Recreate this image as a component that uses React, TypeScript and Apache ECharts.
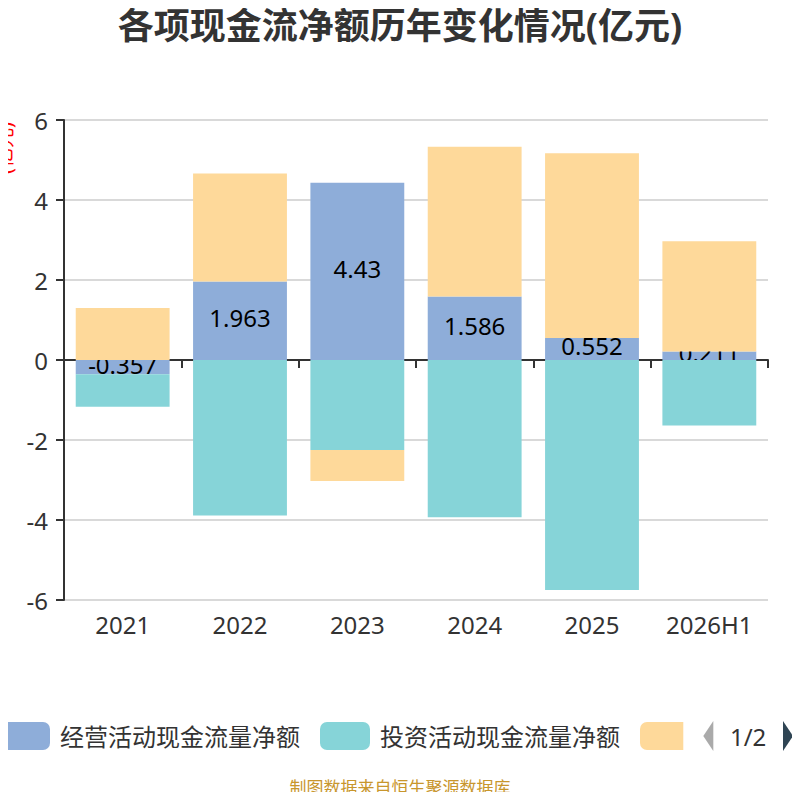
import React, { useEffect, useRef } from "react";
import * as echarts from "echarts";

const categories = ["2021", "2022", "2023", "2024", "2025", "2026H1"];
const operatingCF = [-0.357, 1.963, 4.43, 1.586, 0.552, 0.211];
const investingCF = [-0.81, -3.89, -2.25, -3.93, -5.75, -1.64];
const financingCF = [1.3, 2.7, -0.775, 3.745, 4.615, 2.756];
const seriesNames = ["经营活动现金流量净额", "投资活动现金流量净额", "筹资活动现金流量净额"];
const yTicks = { min: -6, max: 6, interval: 2 };

const FONT = "'Noto Sans', 'Noto Sans CJK SC', sans-serif";

export default function App() {
  const ref = useRef<HTMLDivElement>(null);
  useEffect(() => {
    if (!ref.current) return;
    const chart = echarts.init(ref.current, null, { renderer: "svg" });
    chart.setOption({
      animation: false,
      textStyle: { fontFamily: FONT },
      title: {
        text: "各项现金流净额历年变化情况(亿元)",
        left: "center",
        top: 2,
        textStyle: { fontSize: 36, fontWeight: "bold", color: "#333", fontFamily: FONT },
      },
      grid: { left: 64, right: 32, top: 120, bottom: 200, containLabel: false },
      legend: {
        type: "scroll",
        left: 0,
        width: 793,
        top: 721,
        padding: 0,
        itemWidth: 50,
        itemHeight: 28,
        itemGap: 20,
        icon: "roundRect",
        textStyle: { fontSize: 24, color: "#333", fontFamily: FONT, padding: [0, 0, 0, 5] },
        pageIcons: {
          horizontal: ["path://M0,0L10,-15L10,15z", "path://M0,-15L10,0L0,15z"],
        },
        pageIconSize: [10, 30],
        pageIconColor: "#2f4554",
        pageIconInactiveColor: "#aaa",
        pageTextStyle: { fontSize: 24, color: "#333", fontFamily: FONT },
        pageButtonItemGap: 5,
        pageButtonGap: 20,
        data: seriesNames,
      },
      xAxis: [
        {
          type: "category",
          data: categories,
          position: "bottom",
          axisLine: { onZero: true, lineStyle: { color: "#333", width: 2 } },
          axisTick: { show: true, length: 8, lineStyle: { color: "#333", width: 2 } },
          axisLabel: { show: false },
        },
        {
          type: "category",
          data: categories,
          position: "bottom",
          axisLine: { show: false, onZero: false },
          axisTick: { show: false },
          axisLabel: { show: true, fontSize: 24, color: "#333", margin: 12, fontFamily: FONT },
        },
      ],
      yAxis: {
        type: "value",
        min: yTicks.min,
        max: yTicks.max,
        interval: yTicks.interval,
        axisLine: { show: true, lineStyle: { color: "#333", width: 2 } },
        axisTick: { show: true, length: 8, lineStyle: { color: "#333", width: 2 } },
        axisLabel: { fontSize: 24, color: "#333", margin: 16, fontFamily: FONT },
        splitLine: { lineStyle: { color: "#ccc", width: 1.5 } },
      },
      graphic: [
        {
          type: "text",
          x: 4,
          y: 148,
          rotation: Math.PI / 2,
          style: {
            text: "(亿元)",
            fill: "red",
            fontSize: 20,
            fontFamily: FONT,
            textAlign: "center",
            textVerticalAlign: "middle",
          },
        },
        {
          type: "text",
          left: "center",
          top: 779,
          style: {
            text: "制图数据来自恒生聚源数据库",
            fill: "#c8962d",
            fontSize: 17,
            fontFamily: FONT,
          },
        },
      ],
      series: [
        {
          name: seriesNames[0],
          type: "bar",
          stack: "total",
          z: 2,
          barCategoryGap: "20%",
          data: operatingCF,
          itemStyle: { color: "#8eadd9" },
          label: {
            show: true,
            position: "inside",
            color: "#000",
            fontSize: 24,
            fontFamily: FONT,
            textBorderWidth: 0,
            offset: [0, -3],
          },
        },
        {
          name: seriesNames[1],
          type: "bar",
          stack: "total",
          z: 3,
          barCategoryGap: "20%",
          data: investingCF,
          itemStyle: { color: "#86d4d8" },
        },
        {
          name: seriesNames[2],
          type: "bar",
          stack: "total",
          z: 3,
          barCategoryGap: "20%",
          data: financingCF,
          itemStyle: { color: "#fed99a" },
        },
      ],
    });
    return () => chart.dispose();
  }, []);
  return <div ref={ref} style={{ width: 800, height: 800, margin: -8 }} />;
}
